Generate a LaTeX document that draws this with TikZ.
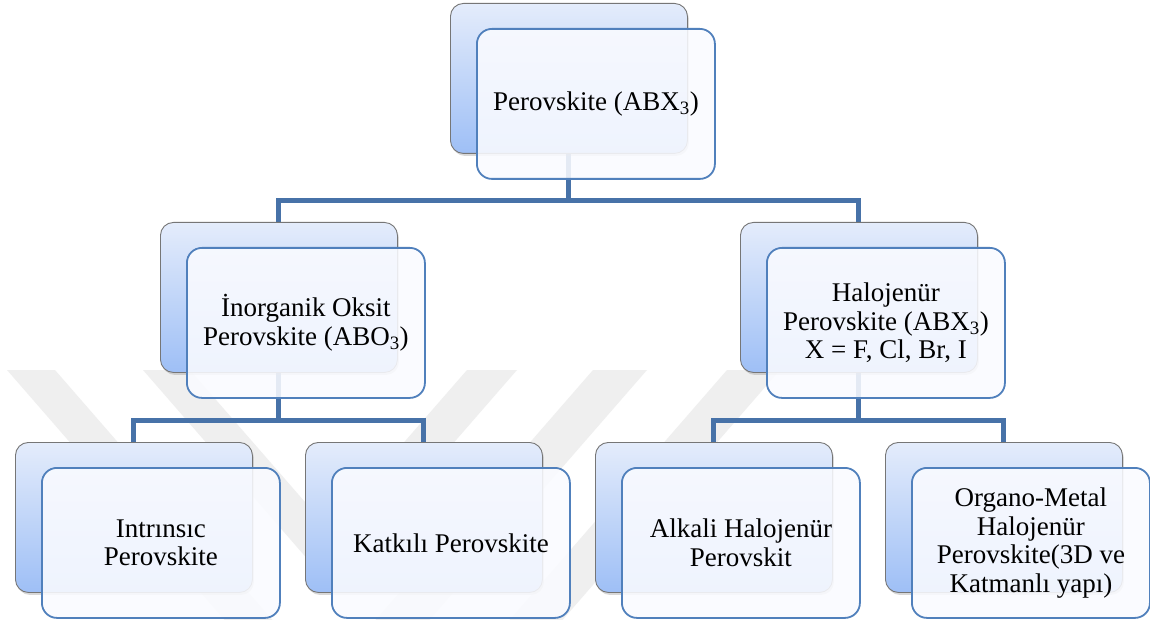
\documentclass[tikz,border=0pt]{standalone}
\usepackage{fontspec}
\setmainfont{Liberation Serif}
\usetikzlibrary{shadows,calc}
\definecolor{connblue}{RGB}{71,114,168}
\definecolor{frontborder}{RGB}{80,128,188}
\definecolor{backtop}{RGB}{228,236,251}
\definecolor{backbot}{RGB}{158,191,246}
\definecolor{backborder}{RGB}{118,118,118}
\definecolor{frontfill}{RGB}{250,251,255}
\definecolor{wmark}{RGB}{239,239,239}
\pgfdeclarelayer{wmlayer}
\pgfdeclarelayer{connlayer}
\pgfsetlayers{wmlayer,connlayer,main}
\tikzset{
  backbox/.style={rectangle, rounded corners=13pt, minimum width=237pt, minimum height=150pt,
    inner sep=0pt, anchor=north west, top color=backtop, bottom color=backbot,
    draw=backborder, line width=0.9pt,
    drop shadow={shadow xshift=1.5pt, shadow yshift=-2.5pt, opacity=0.3}},
  frontbox/.style={rectangle, rounded corners=15pt, minimum width=238pt, minimum height=150pt,
    inner sep=0pt, anchor=north west, draw=frontborder, line width=1.8pt, fill=frontfill,
    fill opacity=0.88, draw opacity=1, text opacity=1, align=center,
    font=\fontsize{27}{28.5}\selectfont},
  conn/.style={draw=connblue, line width=5pt, line join=miter},
  wm/.style={fill=wmark, draw=none}
}
\newcommand{\pairbox}[4]{%
  \node[backbox] (#1b) at (#2,#3) {};
  \node[frontbox] (#1f) at ($(#1b.north west)+(26,25)$) {#4};
}
\begin{document}
\begin{tikzpicture}[x=1pt,y=-1pt]
\useasboundingbox (0,0) rectangle (1150,620);
% boxes
\pairbox{P}{450}{3}{Perovskite (ABX\textsubscript{3})}
\pairbox{A}{160}{222}{İnorganik Oksit\\Perovskite (ABO\textsubscript{3})}
\pairbox{B}{740}{222}{Halojenür\\Perovskite (ABX\textsubscript{3})\\X = F, Cl, Br, I}
\pairbox{Ca}{15}{442}{Intrınsıc\\Perovskite}
\pairbox{Cb}{305}{442}{Katkılı Perovskite}
\pairbox{Cc}{595}{442}{Alkali Halojenür\\Perovskit}
\pairbox{Cd}{885}{442}{Organo-Metal\\Halojenür\\Perovskite(3D ve\\Katmanlı yapı)}
% connectors
\begin{pgfonlayer}{connlayer}
  \coordinate (m1) at ($(Pf.south)!0.5!(Ab.north)$);
  \coordinate (m2) at ($(Af.south)!0.5!(Cab.north)$);
  \coordinate (m3) at ($(Bf.south)!0.5!(Ccb.north)$);
  \draw[conn] (Pb.south) -- (Pb.south |- m1) -| (Ab.north);
  \draw[conn] (Pb.south |- m1) -| (Bb.north);
  \draw[conn] (Ab.south) -- (Ab.south |- m2) -| (Cab.north);
  \draw[conn] (Ab.south |- m2) -| (Cbb.north);
  \draw[conn] (Bb.south) -- (Bb.south |- m3) -| (Ccb.north);
  \draw[conn] (Bb.south |- m3) -| (Cdb.north);
\end{pgfonlayer}
% background and watermark
\begin{pgfonlayer}{wmlayer}
  \fill[white] (0,0) rectangle (1150,620);
  \fill[wm] (7,370) -- (55,370) -- (272.5,620) -- (224.5,620) -- cycle;
  \fill[wm] (593,370) -- (647,370) -- (429.5,620) -- (375.5,620) -- cycle;
  \fill[wm] (727,370) -- (780,370) -- (562.5,620) -- (509.5,620) -- cycle;
  \fill[wm] (143,370) -- (330,585) -- (517,370) -- (467,370) -- (328.5,529) -- (190,370) -- cycle;
\end{pgfonlayer}
\end{tikzpicture}
\end{document}
